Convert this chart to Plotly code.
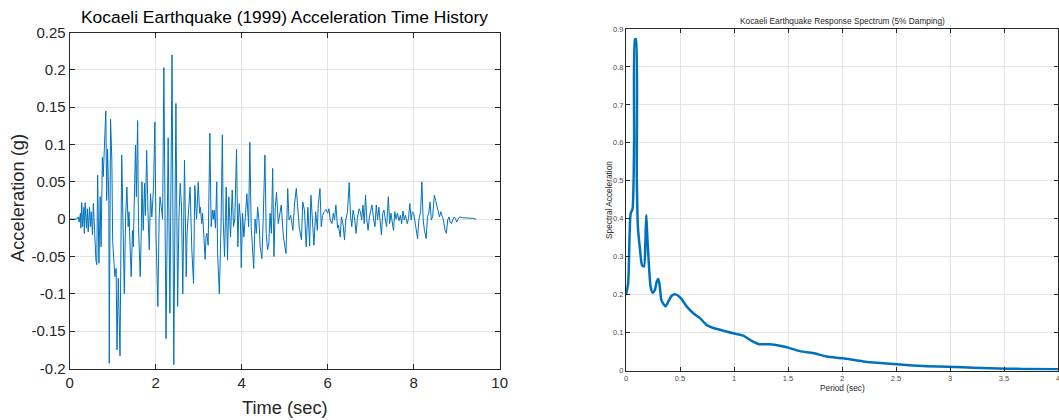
import plotly.graph_objects as go

# ---- Acceleration time history (peaks/troughs) ----
time_s = [0.00, 0.16, 0.20, 0.22, 0.25, 0.26, 0.28, 0.30, 0.33, 0.34, 0.36, 0.39, 0.41, 0.43, 0.46, 0.48,
          0.50, 0.53, 0.55, 0.57, 0.59, 0.61, 0.63, 0.65, 0.68, 0.71, 0.73, 0.76, 0.78, 0.81, 0.84, 0.86,
          0.88, 0.91, 0.92, 0.95, 0.98, 1.00, 1.03, 1.05, 1.08, 1.10, 1.13, 1.17, 1.21, 1.24, 1.27, 1.30,
          1.33, 1.36, 1.38, 1.40, 1.43, 1.46, 1.48, 1.50, 1.53, 1.55, 1.58, 1.60, 1.64, 1.66, 1.68, 1.71,
          1.74, 1.76, 1.79, 1.82, 1.85, 1.88, 1.91, 1.95, 1.98, 2.01, 2.05, 2.08, 2.10, 2.13, 2.16, 2.19,
          2.24, 2.29, 2.33, 2.38, 2.42, 2.47, 2.51, 2.54, 2.57, 2.60, 2.63, 2.67, 2.71, 2.73, 2.75, 2.78,
          2.80, 2.84, 2.88, 2.91, 2.93, 2.95, 2.99, 3.02, 3.04, 3.07, 3.09, 3.12, 3.15, 3.17, 3.19, 3.22,
          3.26, 3.29, 3.32, 3.34, 3.36, 3.39, 3.42, 3.44, 3.48, 3.52, 3.55, 3.57, 3.60, 3.64, 3.67, 3.70,
          3.72, 3.74, 3.78, 3.81, 3.84, 3.88, 3.91, 3.94, 3.97, 3.99, 4.02, 4.05, 4.09, 4.12, 4.16, 4.19,
          4.22, 4.26, 4.28, 4.31, 4.34, 4.37, 4.40, 4.43, 4.47, 4.50, 4.54, 4.57, 4.60, 4.63, 4.66, 4.69,
          4.72, 4.75, 4.78, 4.81, 4.85, 4.92, 4.97, 5.03, 5.07, 5.10, 5.14, 5.19, 5.23, 5.27, 5.31, 5.34,
          5.39, 5.42, 5.46, 5.50, 5.54, 5.58, 5.61, 5.64, 5.68, 5.72, 5.76, 5.78, 5.82, 5.85, 5.88, 5.92,
          5.96, 6.00, 6.03, 6.06, 6.10, 6.13, 6.16, 6.19, 6.23, 6.25, 6.29, 6.32, 6.36, 6.39, 6.42, 6.46,
          6.50, 6.53, 6.56, 6.59, 6.63, 6.66, 6.69, 6.73, 6.76, 6.79, 6.82, 6.85, 6.88, 6.91, 6.94, 6.97,
          7.00, 7.03, 7.07, 7.10, 7.13, 7.16, 7.19, 7.22, 7.25, 7.28, 7.31, 7.34, 7.37, 7.41, 7.44, 7.47,
          7.50, 7.53, 7.56, 7.59, 7.62, 7.66, 7.69, 7.72, 7.75, 7.78, 7.81, 7.85, 7.88, 7.91, 7.94, 7.97,
          8.00, 8.03, 8.06, 8.09, 8.12, 8.16, 8.19, 8.22, 8.25, 8.29, 8.32, 8.35, 8.38, 8.41, 8.44, 8.48,
          8.51, 8.54, 8.57, 8.60, 8.63, 8.66, 8.69, 8.73, 8.76, 8.79, 8.82, 8.85, 8.88, 8.91, 8.94, 8.97,
          9.00, 9.03, 9.07, 9.14, 9.22, 9.30, 9.38, 9.45]

accel_g = [0.000, 0.000, 0.003, -0.004, 0.008, -0.012, 0.022, -0.010, 0.016, -0.019, 0.022, -0.012, 0.014, -0.017, 0.016, -0.010,
           0.010, -0.021, 0.021, -0.010, -0.030, -0.055, -0.061, 0.059, -0.059, 0.030, -0.037, 0.083, 0.057, 0.092, 0.145, 0.025,
           0.094, 0.025, -0.193, 0.134, 0.079, -0.030, -0.059, -0.077, -0.066, -0.175, -0.079, -0.183, 0.086, -0.010, -0.100, 0.003,
           0.043, -0.010, 0.010, -0.030, -0.077, -0.015, -0.037, 0.019, 0.099, 0.030, 0.132, -0.010, -0.077, -0.030, 0.050, -0.015,
           0.048, 0.005, 0.092, 0.010, -0.041, 0.034, 0.003, 0.043, 0.130, -0.028, -0.117, 0.000, 0.030, 0.016, 0.000, 0.203,
           -0.160, 0.109, -0.126, 0.220, -0.195, 0.155, -0.117, 0.000, 0.048, 0.016, -0.100, 0.079, -0.077, -0.019, 0.000, 0.030,
           0.043, -0.041, -0.086, 0.045, 0.012, 0.000, 0.050, 0.008, 0.016, -0.006, 0.008, -0.019, -0.054, -0.024, -0.019, -0.035,
           0.115, -0.010, 0.012, 0.000, 0.012, -0.012, 0.050, -0.046, -0.100, -0.006, 0.113, 0.000, -0.050, 0.043, -0.055, 0.030,
           -0.006, -0.024, 0.039, -0.010, 0.000, 0.094, -0.037, 0.021, 0.000, -0.065, 0.008, -0.024, 0.008, 0.034, -0.010, 0.103,
           -0.010, -0.041, -0.066, 0.000, -0.019, 0.016, 0.000, -0.037, -0.053, 0.000, 0.086, -0.019, -0.041, -0.033, 0.008, -0.019,
           0.068, -0.050, 0.016, 0.036, -0.006, 0.019, -0.024, -0.046, 0.041, -0.001, 0.005, -0.015, 0.021, 0.041, 0.008, -0.012,
           -0.028, 0.023, 0.012, -0.037, 0.016, -0.036, 0.032, -0.004, -0.035, 0.010, -0.015, 0.019, 0.041, -0.010, 0.005, 0.010,
           0.013, 0.008, 0.014, -0.001, -0.006, 0.008, -0.001, 0.019, -0.012, -0.008, -0.024, 0.003, -0.008, -0.028, -0.001, 0.010,
           0.049, 0.005, -0.010, 0.012, -0.001, -0.019, 0.001, 0.014, 0.010, -0.001, 0.019, -0.006, 0.032, -0.001, -0.015, 0.003,
           0.010, 0.019, -0.001, -0.010, 0.019, -0.001, 0.016, -0.004, -0.021, 0.008, 0.012, -0.001, -0.010, 0.030, -0.006, 0.008,
           -0.001, -0.015, 0.010, 0.000, 0.008, -0.002, 0.005, -0.006, 0.011, -0.001, 0.005, -0.006, 0.001, 0.021, -0.001, 0.010,
           0.008, -0.006, -0.012, -0.026, -0.001, 0.010, 0.050, -0.001, -0.015, -0.026, 0.003, 0.008, 0.023, -0.001, 0.003, 0.032,
           0.025, 0.016, 0.012, 0.003, 0.010, 0.003, -0.001, -0.015, -0.019, -0.001, 0.003, -0.004, -0.006, -0.001, 0.003, 0.001,
           -0.004, 0.000, 0.003, 0.002, 0.002, 0.002, 0.001, 0.000]

# ---- Response spectrum (5% damping) ----
period_s = [0.0, 0.02, 0.043, 0.06, 0.075, 0.083, 0.092, 0.10, 0.11, 0.13, 0.148, 0.167, 0.179, 0.188, 0.197,
            0.213, 0.228, 0.247, 0.268, 0.284, 0.299, 0.311, 0.327, 0.345, 0.367, 0.392, 0.423, 0.453, 0.484,
            0.515, 0.561, 0.623, 0.685, 0.746, 0.808, 0.90, 0.993, 1.086, 1.147, 1.224, 1.332, 1.425, 1.517,
            1.61, 1.733, 1.857, 2.01, 2.196, 2.442, 2.75, 3.06, 3.37, 3.68, 4.0]
spectral_acc = [0.199, 0.23, 0.414, 0.425, 0.60, 0.873, 0.873, 0.51, 0.38, 0.318, 0.278, 0.274, 0.335, 0.41, 0.353,
                0.274, 0.221, 0.205, 0.212, 0.234, 0.241, 0.226, 0.186, 0.176, 0.169, 0.182, 0.197, 0.201, 0.197,
                0.188, 0.169, 0.151, 0.138, 0.12, 0.112, 0.105, 0.098, 0.092, 0.081, 0.07, 0.069, 0.065, 0.059,
                0.051, 0.046, 0.037, 0.032, 0.024, 0.018, 0.012, 0.009, 0.006, 0.004, 0.0035]

left_yticks = [0.25, 0.2, 0.15, 0.1, 0.05, 0, -0.05, -0.1, -0.15, -0.2]
left_yticktext = ["0.25", "0.2", "0.15", "0.1", "0.05", "0", "-0.05", "-0.1", "-0.15", "-0.2"]
left_xticks = [0, 2, 4, 6, 8, 10]
right_xticks = [0, 0.5, 1, 1.5, 2, 2.5, 3, 3.5, 4]
right_xticktext = ["0", "0.5", "1", "1.5", "2", "2.5", "3", "3.5", "4"]
right_yticks = [0, 0.1, 0.2, 0.3, 0.4, 0.5, 0.6, 0.7, 0.8, 0.9]
right_yticktext = ["0", "0.1", "0.2", "0.3", "0.4", "0.5", "0.6", "0.7", "0.8", "0.9"]

LINE = "#0072BD"
AX = "#262626"
GRID = "#e3e3e3"
FONT = "Liberation Sans, Arial, sans-serif"
W, H = 1059, 420


def px(x):
    return x / W


def py(y):
    return 1 - y / H


fig = go.Figure()
fig.add_trace(go.Scatter(x=time_s, y=accel_g, mode="lines", line=dict(color=LINE, width=1),
                         xaxis="x", yaxis="y", showlegend=False, hoverinfo="x+y"))
fig.add_trace(go.Scatter(x=period_s, y=spectral_acc, mode="lines",
                         line=dict(color=LINE, width=2.5, shape="spline", smoothing=0.6),
                         xaxis="x2", yaxis="y2", showlegend=False))

common = dict(showline=True, linecolor=AX, linewidth=1, mirror="ticks", ticks="inside",
              tickcolor=AX, showgrid=True, gridcolor=GRID, zeroline=False, automargin=False,
              ticklabeloverflow="allow")

lx0, lx1 = px(69.7), px(499.7)
ly0, ly1 = py(368.5), py(32.5)
rx0, rx1 = px(626), px(1058)
ry0, ry1 = py(370.5), py(29)

fig.update_layout(
    width=W, height=H, margin=dict(l=0, r=0, t=0, b=0, autoexpand=False),
    paper_bgcolor="white", plot_bgcolor="white",
    font=dict(family=FONT, color=AX),
    xaxis=dict(domain=[lx0, lx1], range=[0, 10], tickvals=left_xticks, ticklen=5,
               tickfont=dict(size=15, color=AX), anchor="y", **common),
    yaxis=dict(domain=[ly0, ly1], range=[-0.2, 0.25], tickvals=left_yticks, ticktext=left_yticktext,
               ticklen=5, tickfont=dict(size=15, color=AX), anchor="x", **common),
    xaxis2=dict(domain=[rx0, rx1], range=[0, 4], tickvals=right_xticks, ticktext=right_xticktext,
                ticklen=4, tickfont=dict(size=7.5, color="#4d4d4d"), anchor="y2", **common),
    yaxis2=dict(domain=[ry0, ry1], range=[0, 0.9], tickvals=right_yticks, ticktext=right_yticktext,
                ticklen=4, tickfont=dict(size=7.5, color="#4d4d4d"), anchor="x2", **common),
    annotations=[
        dict(text="Kocaeli Earthquake (1999) Acceleration Time History", x=(lx0 + lx1) / 2, y=py(17),
             xref="paper", yref="paper", showarrow=False, font=dict(size=17.4, color="black"),
             xanchor="center", yanchor="middle"),
        dict(text="Time (sec)", x=(lx0 + lx1) / 2, y=py(407), xref="paper", yref="paper",
             showarrow=False, font=dict(size=18.3, color=AX), xanchor="center", yanchor="middle"),
        dict(text="Acceleration (g)", x=px(17), y=py(198), xref="paper", yref="paper", textangle=-90,
             showarrow=False, font=dict(size=18.3, color=AX), xanchor="center", yanchor="middle"),
        dict(text="Kocaeli Earthquake Response Spectrum (5% Damping)", x=(rx0 + rx1) / 2, y=py(21),
             xref="paper", yref="paper", showarrow=False, font=dict(size=8.3, color=AX),
             xanchor="center", yanchor="middle"),
        dict(text="Period (sec)", x=(rx0 + rx1) / 2, y=py(388), xref="paper", yref="paper",
             showarrow=False, font=dict(size=8.3, color=AX), xanchor="center", yanchor="middle"),
        dict(text="Spectral Acceleration", x=px(609), y=py(200), xref="paper", yref="paper",
             textangle=-90, showarrow=False, font=dict(size=8.3, color=AX),
             xanchor="center", yanchor="middle"),
    ],
)

fig.write_html("out.html", config={"displayModeBar": False},
               post_script="document.body.style.margin='0';document.body.style.overflow='hidden';")
